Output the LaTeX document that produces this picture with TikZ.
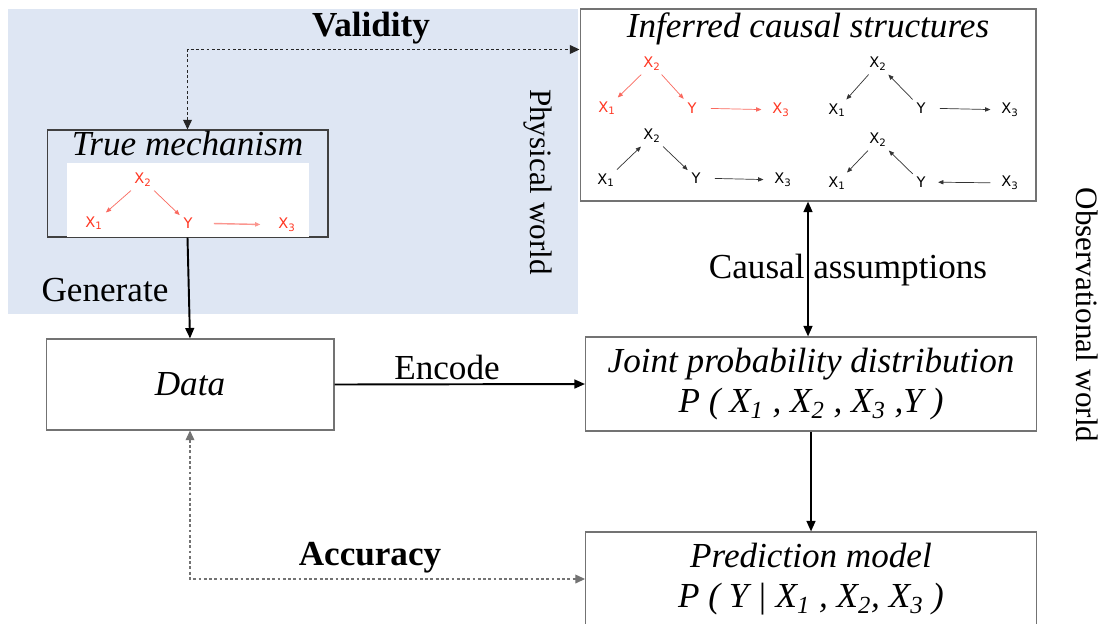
\documentclass[tikz,border=0pt]{standalone}
\usepackage{fontspec}
\setmainfont{Liberation Serif}
\newfontfamily\graphfont{DejaVu Sans}
\usetikzlibrary{arrows.meta, calc, positioning}

\definecolor{physblue}{RGB}{222,230,243}
\definecolor{causalred}{RGB}{255,55,35}
\definecolor{edgered}{RGB}{250,105,95}

\tikzstyle{box} = [rectangle, draw=black!55, line width=0.6pt, fill=white, inner sep=0pt, align=center, font=\fontsize{20}{23}\selectfont\itshape]
\tikzstyle{label} = [font=\fontsize{20}{23}\selectfont, inner sep=0pt]
\tikzstyle{boldlabel} = [font=\fontsize{20}{23}\selectfont\bfseries, inner sep=0pt]
\tikzstyle{sidelabel} = [font=\fontsize{17.7}{20}\selectfont, inner sep=0pt, rotate=-90]
\tikzstyle{title} = [font=\fontsize{20}{23}\selectfont\itshape, inner sep=0pt]
\tikzstyle{arrow} = [line width=1.1pt, -{Triangle[length=6pt,width=5pt]}]
\tikzstyle{darrow} = [line width=1.1pt, {Triangle[length=6pt,width=5pt]}-{Triangle[length=6pt,width=5pt]}]
\tikzstyle{dotarrow} = [line width=0.6pt, dash pattern=on 1.6pt off 1.4pt, {Triangle[length=5.5pt,width=5pt]}-{Triangle[length=5.5pt,width=5pt]}]
\tikzstyle{var} = [font=\graphfont\fontsize{8.3}{9}\selectfont, inner sep=2pt]
\tikzstyle{redvar} = [var, text=causalred]
\tikzstyle{edge} = [line width=0.4pt, draw=black!80, -{Triangle[length=3pt,width=2.4pt]}]
\tikzstyle{rededge} = [edge, draw=edgered]
\tikzstyle{hedge} = [shorten <=6pt, shorten >=4pt]

\begin{document}
\begin{tikzpicture}[x=0.02cm, y=-0.02cm]
		\useasboundingbox (0,0) rectangle (1111,623);
		% physical world
		\fill[physblue] (8,9) rectangle (578,314);
		\node (tm) [box, fill=none, draw=black!75, minimum width=5.62cm, minimum height=2.14cm] at (187.5,183.5) {};
		\fill[white] (67,163) rectangle (309,237);
		\node (tmtitle) [title, below=1pt of tm.north] {True mechanism};
		\node (validity) [boldlabel] at (371,28) {Validity};
		\node (physical) [sidelabel] at (538,182) {Physical world};
		\node (generate) [label] at (105,290) {Generate};
		% boxes
		\node (inf) [box, minimum width=9.12cm, minimum height=3.84cm] at (808,105) {};
		\node (inftitle) [title, below=2pt of inf.north] {Inferred causal structures};
		\node (data) [box, minimum width=5.76cm, minimum height=1.82cm] at (190,384.5) {Data};
		\node (joint) [box, minimum width=9.02cm, minimum height=1.88cm] at (811,384) {Joint probability distribution\\P ( X\textsubscript{1} , X\textsubscript{2} , X\textsubscript{3} ,Y )};
		\node (pred) [box, minimum width=9.02cm, minimum height=1.88cm] at (811,579) {Prediction model\\P ( Y | X\textsubscript{1} , X\textsubscript{2}, X\textsubscript{3} )};
		\node (encode) [label] at (447,367) {Encode};
		\node (accuracy) [boldlabel] at (370,558) {Accuracy};
		\node (causal) [label] at (848,270) {Causal assumptions};
		\node (observational) [sidelabel] at (1087,315) {Observational world};
		% true mechanism graph
		\node (t2) [redvar] at (143,180) {X\textsubscript{2}};
		\node (t1) [redvar] at (94,223) {X\textsubscript{1}};
		\node (ty) [redvar] at (188,223) {Y};
		\node (t3) [redvar] at (287,225) {X\textsubscript{3}};
		\draw [rededge] (t2) -- (t1);
		\draw [rededge] (t2) -- (ty);
		\draw [rededge, hedge, line width=0.8pt, draw=edgered!70, shorten <=10pt, shorten >=8pt] (ty) -- (t3);
		% inferred graphs
		\node (a2) [redvar] at (652,64) {X\textsubscript{2}};
		\node (a1) [redvar] at (607,108) {X\textsubscript{1}};
		\node (ay) [redvar] at (692,108) {Y};
		\node (a3) [redvar] at (781,110) {X\textsubscript{3}};
		\draw [rededge] (a2) -- (a1);
		\draw [rededge] (a2) -- (ay);
		\draw [rededge, hedge] (ay) -- (a3);
		\node (b2) [var] at (878,64) {X\textsubscript{2}};
		\node (b1) [var] at (837,110) {X\textsubscript{1}};
		\node (by) [var] at (921,108) {Y};
		\node (b3) [var] at (1010,110) {X\textsubscript{3}};
		\draw [edge] (b2) -- (b1);
		\draw [edge] (by) -- (b2);
		\draw [edge, hedge] (by) -- (b3);
		\node (c2) [var] at (652,136) {X\textsubscript{2}};
		\node (c1) [var] at (606,180) {X\textsubscript{1}};
		\node (cy) [var] at (696,178) {Y};
		\node (c3) [var] at (783,180) {X\textsubscript{3}};
		\draw [edge] (c1) -- (c2);
		\draw [edge] (c2) -- (cy);
		\draw [edge, hedge] (cy) -- (c3);
		\node (d2) [var] at (878,140) {X\textsubscript{2}};
		\node (d1) [var] at (837,183) {X\textsubscript{1}};
		\node (dy) [var] at (921,182) {Y};
		\node (d3) [var] at (1010,183) {X\textsubscript{3}};
		\draw [edge] (d2) -- (d1);
		\draw [edge] (dy) -- (d2);
		\draw [edge, shorten <=4pt, shorten >=5pt] (d3) -- (dy);
		% connectors
		\draw [dotarrow, draw=black!85] (tm.north) |- ($(inf.north west)+(0,41)$);
		\draw [arrow] (tm.south) -- (data.north);
		\draw [arrow] (data.east) -- (joint.west);
		\draw [darrow] (inf.south) -- (inf.south |- joint.north);
		\draw [arrow] (joint.south) -- (pred.north);
		\draw [dotarrow, draw=black!55] (data.south) |- (pred.west);
		\end{tikzpicture}
\end{document}
